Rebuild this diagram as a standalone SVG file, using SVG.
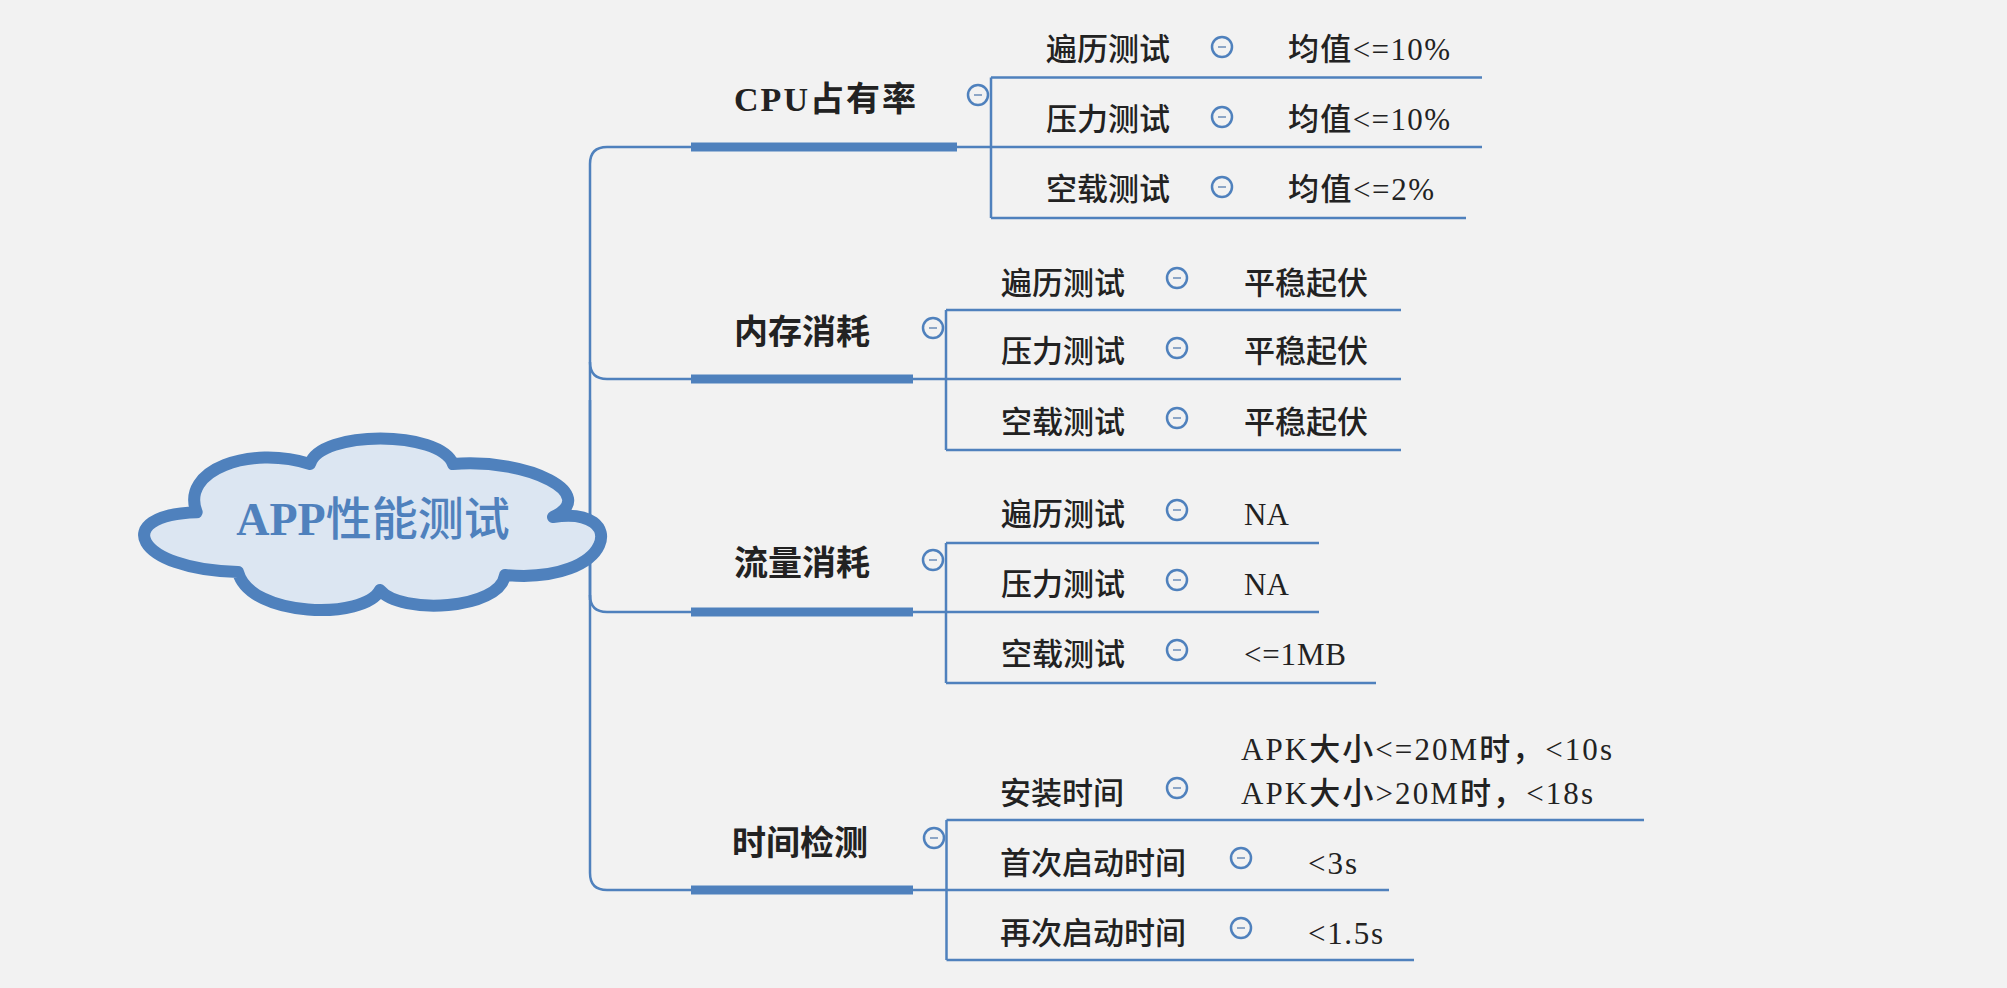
<svg xmlns="http://www.w3.org/2000/svg" width="2007" height="988" viewBox="0 0 2007 988">
<style>
text{font-family:"Liberation Serif","Noto Sans CJK SC",serif;fill:#222}
.l1{font-size:34px;font-weight:bold}
.l2{font-size:31px;font-weight:500}
.root{font-size:46px;font-weight:500;fill:#4F81BD}
.ln{fill:none;stroke:#4F81BD;stroke-width:2.5}
.bar{fill:#4F81BD}
.tog circle{fill:#F2F2F2;stroke:#4F81BD;stroke-width:2.5}
.tog line{stroke:#8DA6C6;stroke-width:2}
</style>
<defs>
<g id="tg" class="tog"><circle cx="0" cy="0" r="10"/><line x1="-4" y1="0" x2="4" y2="0"/></g>
</defs>
<rect x="0" y="0" width="2007" height="988" fill="#F2F2F2"/>

<g id="connectors">
<path class="ln" d="M590,600 V164 Q590,147 607,147 H691"/>
<path class="ln" d="M590,362 Q590,379 607,379 H691"/>
<path class="ln" d="M590,595 Q590,612 607,612 H691"/>
<path class="ln" d="M590,400 V873 Q590,890 607,890 H691"/>
<rect class="bar" x="691" y="142.5" width="266" height="9"/>
<rect class="bar" x="691" y="374.5" width="222" height="9"/>
<rect class="bar" x="691" y="607.5" width="222" height="9"/>
<rect class="bar" x="691" y="885.5" width="222" height="9"/>
<path class="ln" d="M957,147 H1482 M991,77.5 V218 M991,77.5 H1482 M991,218 H1466"/>
<path class="ln" d="M913,379 H1401 M946,310 V450 M946,310 H1401 M946,450 H1401"/>
<path class="ln" d="M913,612 H1319 M946,543 V683 M946,543 H1319 M946,683 H1376"/>
<path class="ln" d="M913,890 H1389 M946.5,820 V960 M946.5,820 H1644 M946.5,960 H1414"/>
</g>

<g id="root">
<path d="M196.7,512.3 C180,470 250,445 310,464 C320,430 440,430 453,464 C530,458 600,495 553,517 C630,505 615,585 505,575 C500,610 400,615 380,590 C365,620 250,618 238,572 C135,570 110,515 196.7,512.3 Z" fill="#DCE6F2" stroke="#4F81BD" stroke-width="12" stroke-linejoin="round"/>
<text class="root" x="373" y="535" text-anchor="middle"><tspan font-weight="bold">APP</tspan>性能测试</text>
</g>

<g id="cpu">
<text class="l1" x="734" y="111" textLength="182">CPU占有率</text>
<use href="#tg" x="978" y="95"/>
</g>
<g id="cpu-1"><text class="l2" x="1046" y="60">遍历测试</text><use href="#tg" x="1222" y="47"/><text class="l2" x="1288" y="60" textLength="162">均值&lt;=10%</text></g>
<g id="cpu-2"><text class="l2" x="1046" y="130">压力测试</text><use href="#tg" x="1222" y="117"/><text class="l2" x="1288" y="130" textLength="162">均值&lt;=10%</text></g>
<g id="cpu-3"><text class="l2" x="1046" y="200">空载测试</text><use href="#tg" x="1222" y="187"/><text class="l2" x="1288" y="200" textLength="146">均值&lt;=2%</text></g>

<g id="mem">
<text class="l1" x="734" y="344">内存消耗</text>
<use href="#tg" x="933" y="328"/>
</g>
<g id="mem-1"><text class="l2" x="1001" y="294">遍历测试</text><use href="#tg" x="1177" y="278"/><text class="l2" x="1244" y="294">平稳起伏</text></g>
<g id="mem-2"><text class="l2" x="1001" y="362">压力测试</text><use href="#tg" x="1177" y="348"/><text class="l2" x="1244" y="362">平稳起伏</text></g>
<g id="mem-3"><text class="l2" x="1001" y="433">空载测试</text><use href="#tg" x="1177" y="418"/><text class="l2" x="1244" y="433">平稳起伏</text></g>

<g id="net">
<text class="l1" x="734" y="575">流量消耗</text>
<use href="#tg" x="933" y="560"/>
</g>
<g id="net-1"><text class="l2" x="1001" y="525">遍历测试</text><use href="#tg" x="1177" y="510"/><text class="l2" x="1244" y="525">NA</text></g>
<g id="net-2"><text class="l2" x="1001" y="595">压力测试</text><use href="#tg" x="1177" y="580"/><text class="l2" x="1244" y="595">NA</text></g>
<g id="net-3"><text class="l2" x="1001" y="665">空载测试</text><use href="#tg" x="1177" y="650"/><text class="l2" x="1244" y="665" textLength="102">&lt;=1MB</text></g>

<g id="time">
<text class="l1" x="732" y="855">时间检测</text>
<use href="#tg" x="934" y="838"/>
</g>
<g id="time-1"><text class="l2" x="1000" y="804">安装时间</text><use href="#tg" x="1177" y="788"/><text class="l2" x="1241" y="760" textLength="371">APK大小&lt;=20M时，&lt;10s</text><text class="l2" x="1241" y="804" textLength="352">APK大小&gt;20M时，&lt;18s</text></g>
<g id="time-2"><text class="l2" x="1000" y="874">首次启动时间</text><use href="#tg" x="1241" y="858"/><text class="l2" x="1308" y="874" textLength="49">&lt;3s</text></g>
<g id="time-3"><text class="l2" x="1000" y="944">再次启动时间</text><use href="#tg" x="1241" y="928"/><text class="l2" x="1308" y="944" textLength="75">&lt;1.5s</text></g>
</svg>
